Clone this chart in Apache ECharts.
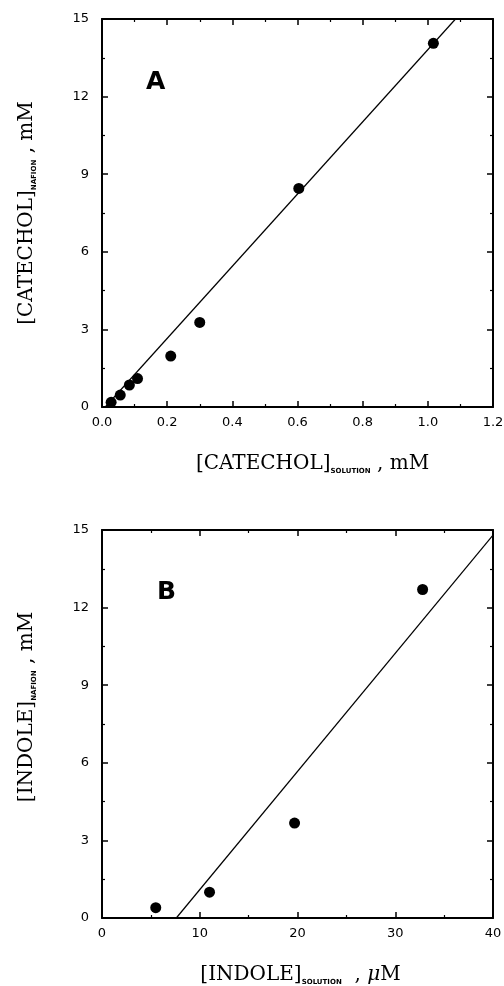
<!DOCTYPE html>
<html>
<head>
<meta charset="utf-8">
<script src="https://cdn.jsdelivr.net/npm/echarts@6/dist/echarts.min.js"></script>
<style>
  html, body { margin: 0; padding: 0; background: #fff; }
  #chart { width: 504px; height: 986px; }
</style>
</head>
<body>
<div id="chart"></div>
<script>
// panel A: catechol uptake
var catecholSolution = [0.028, 0.056, 0.084, 0.109, 0.211, 0.30, 0.604, 1.017];
var catecholNafion   = [0.18, 0.46, 0.85, 1.1, 1.97, 3.27, 8.45, 14.06];
var catecholFitX = [0.01, 1.085];
var catecholFitY = [0, 15];

// panel B: indole uptake
var indoleSolution = [5.5, 11.0, 19.7, 32.8];
var indoleNafion   = [0.4, 1.0, 3.67, 12.7];
var indoleFitX = [7.6, 40];
var indoleFitY = [0, 14.8];

function pairs(xs, ys) {
    var out = [];
    for (var i = 0; i < xs.length; i++) out.push([xs[i], ys[i]]);
    return out;
}

var tickFont = { color: '#000', fontFamily: 'DejaVu Sans', fontSize: 13 };
var nameRich = {
    a: { fontFamily: 'DejaVu Serif', fontSize: 20, color: '#000', lineHeight: 23 },
    s: { fontFamily: 'DejaVu Sans', fontSize: 7, fontWeight: 'bold', color: '#000', lineHeight: 11, verticalAlign: 'bottom' },
    m: { fontFamily: 'DejaVu Serif', fontSize: 20, fontStyle: 'italic', color: '#000', lineHeight: 23 }
};

function xAxisPair(grid, min, max, interval, digits, name, nameShift) {
    var base = {
        gridIndex: grid, type: 'value', min: min, max: max, interval: interval,
        axisLine: { show: true, onZero: false, lineStyle: { color: '#000', width: 2 } },
        axisTick: { show: true, inside: true, length: 6, lineStyle: { color: '#000', width: 1.5 } },
        minorTick: { show: true, splitNumber: 2, length: 3, lineStyle: { color: '#000', width: 1.2 } },
        splitLine: { show: false }
    };
    var bottom = Object.assign({}, base, {
        position: 'bottom',
        axisLabel: Object.assign({ margin: 9, formatter: function (v) { return v.toFixed(digits); } }, tickFont),
        name: name, nameLocation: 'middle', nameGap: 45,
        nameTextStyle: { rich: nameRich, padding: [0, 0, 0, nameShift] }
    });
    var top = Object.assign({}, base, { position: 'top', axisLabel: { show: false } });
    return [bottom, top];
}

function yAxisPair(grid, name, nameShift) {
    var base = {
        gridIndex: grid, type: 'value', min: 0, max: 15, interval: 3,
        axisLine: { show: true, onZero: false, lineStyle: { color: '#000', width: 2 } },
        axisTick: { show: true, inside: true, length: 6, lineStyle: { color: '#000', width: 1.5 } },
        minorTick: { show: true, splitNumber: 2, length: 3, lineStyle: { color: '#000', width: 1.2 } },
        splitLine: { show: false }
    };
    var left = Object.assign({}, base, {
        position: 'left',
        axisLabel: Object.assign({ margin: 13 }, tickFont),
        name: name, nameLocation: 'middle', nameGap: 64, nameRotate: 90,
        nameTextStyle: { rich: nameRich, padding: [0, 0, 0, nameShift] }
    });
    var right = Object.assign({}, base, { position: 'right', axisLabel: { show: false } });
    return [left, right];
}

var xa = xAxisPair(0, 0, 1.2, 0.2, 1, '{a|[CATECHOL]}{s|SOLUTION}{a| , mM}', 30);
var xb = xAxisPair(1, 0, 40, 10, 0, '{a|[INDOLE]}{s|SOLUTION}{a|  , }{m|μ}{a|M}', 6);
var ya = yAxisPair(0, '{a|[CATECHOL]}{s|NAFION}{a| , mM}', 0);
var yb = yAxisPair(1, '{a|[INDOLE]}{s|NAFION}{a| , mM}', 34);

var myChart = echarts.init(document.getElementById('chart'));
myChart.setOption({
    backgroundColor: '#fff',
    animation: false,
    grid: [
        { left: 102, right: 11, top: 19, height: 388, outerBoundsMode: 'none' },
        { left: 102, right: 11, top: 530, height: 388, outerBoundsMode: 'none' }
    ],
    xAxis: [xa[0], xa[1], xb[0], xb[1]],
    yAxis: [ya[0], ya[1], yb[0], yb[1]],
    graphic: [
        { type: 'text', left: 146, top: 70, style: { text: 'A', font: 'bold 25px "DejaVu Sans"', fill: '#000' } },
        { type: 'text', left: 157, top: 580, style: { text: 'B', font: 'bold 25px "DejaVu Sans"', fill: '#000' } }
    ],
    series: [
        {
            type: 'line', xAxisIndex: 0, yAxisIndex: 0,
            data: pairs(catecholFitX, catecholFitY),
            symbol: 'none', clip: true,
            lineStyle: { color: '#000', width: 1.2 }
        },
        {
            type: 'scatter', xAxisIndex: 0, yAxisIndex: 0,
            data: pairs(catecholSolution, catecholNafion),
            symbol: 'circle', symbolSize: 11,
            itemStyle: { color: '#000', opacity: 1 }
        },
        {
            type: 'line', xAxisIndex: 2, yAxisIndex: 2,
            data: pairs(indoleFitX, indoleFitY),
            symbol: 'none', clip: true,
            lineStyle: { color: '#000', width: 1.2 }
        },
        {
            type: 'scatter', xAxisIndex: 2, yAxisIndex: 2,
            data: pairs(indoleSolution, indoleNafion),
            symbol: 'circle', symbolSize: 11,
            itemStyle: { color: '#000', opacity: 1 }
        }
    ]
});
</script>
</body>
</html>
